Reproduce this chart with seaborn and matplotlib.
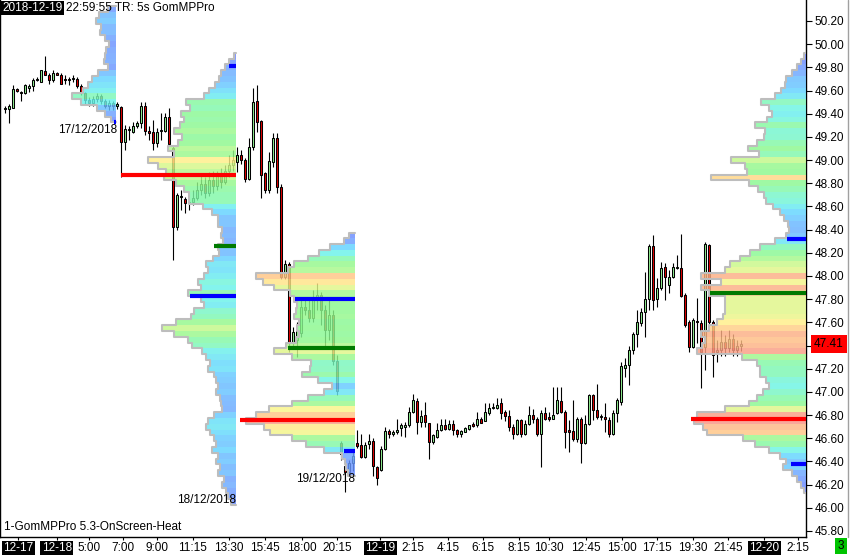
import numpy as np
import pandas as pd
import matplotlib
matplotlib.use("Agg")
import matplotlib.pyplot as plt
from matplotlib.colors import LinearSegmentedColormap
from matplotlib.ticker import FormatStrFormatter
from matplotlib.transforms import blended_transform_factory
import seaborn as sns

# ---------------- candle data (15-minute bars) ----------------
open_ = [49.44, 49.44, 49.45, 49.61, 49.59, 49.58, 49.62, 49.64, 49.69, 49.67,
         49.77, 49.73, 49.69, 49.745, 49.73, 49.70, 49.70, 49.70, 49.70, 49.64,
         49.58, 49.52, 49.49, 49.53, 49.55, 49.51, 49.47, 49.49, 49.47,
         49.46, 49.16, 49.26, 49.24, 49.29, 49.32, 49.47, 49.25, 49.24, 49.15,
         49.25, 49.25, 49.37, 49.10, 48.42, 48.68, 48.66, 48.63, 48.64, 48.67,
         48.74, 48.79, 48.72, 48.83, 48.78, 48.87, 48.81, 48.91, 48.96,
         48.98, 49.04, 49.00, 48.84, 49.11, 49.51, 49.34, 48.89, 48.74, 48.98,
         49.19, 48.77, 47.99, 48.10, 47.43, 47.45, 47.51, 47.73, 47.71, 47.64,
         47.79, 47.84, 47.71, 47.53, 47.66, 47.27, 46.56, 46.36, 46.31, 46.39,
         46.56, 46.54, 46.44, 46.55, 46.58, 46.35, 46.33, 46.51, 46.66, 46.64,
         46.65, 46.69, 46.70, 46.71, 46.83, 46.92, 46.74, 46.80, 46.73, 46.57,
         46.61, 46.67, 46.71, 46.68, 46.72, 46.67, 46.64, 46.65, 46.68, 46.72,
         46.71, 46.77, 46.75, 46.82, 46.86, 46.86, 46.90, 46.83, 46.79, 46.70,
         46.64, 46.76, 46.64, 46.72, 46.80, 46.77, 46.64, 46.82, 46.78, 46.77,
         46.82, 46.92, 46.83, 46.67, 46.66, 46.59, 46.77, 46.56, 46.72, 46.97,
         46.84, 46.78, 46.78, 46.76, 46.64, 46.82, 46.91, 47.21, 47.23, 47.36,
         47.50, 47.59, 47.69, 47.80, 48.26, 47.80, 47.90, 48.08, 47.92, 47.99,
         48.07, 48.07, 47.84, 47.60, 47.39, 47.61, 47.59, 47.39, 48.27, 47.60,
         47.34, 47.36, 47.43, 47.38, 47.46, 47.36, 47.40]
high_ = [49.47, 49.48, 49.65, 49.62, 49.60, 49.66, 49.66, 49.71, 49.72, 49.78,
         49.90, 49.75, 49.78, 49.76, 49.75, 49.73, 49.72, 49.73, 49.72, 49.66,
         49.59, 49.54, 49.55, 49.58, 49.57, 49.53, 49.52, 49.51, 49.50,
         49.47, 49.30, 49.29, 49.33, 49.34, 49.50, 49.50, 49.29, 49.35, 49.28,
         49.41, 49.41, 49.45, 49.13, 48.72, 48.74, 48.68, 48.66, 48.74, 48.81,
         48.87, 48.85, 48.90, 48.91, 48.91, 48.93, 48.96, 49.04, 49.09,
         49.11, 49.09, 49.02, 49.19, 49.62, 49.65, 49.35, 48.90, 49.07, 49.23,
         49.23, 48.79, 48.14, 48.12, 47.56, 47.60, 47.79, 47.81, 47.79, 47.88,
         47.94, 47.86, 47.75, 47.79, 47.71, 47.32, 46.58, 46.41, 46.41, 46.48,
         46.67, 46.64, 46.57, 46.64, 46.60, 46.36, 46.53, 46.70, 46.68, 46.67,
         46.77, 46.73, 46.74, 46.87, 46.98, 46.95, 46.84, 46.91, 46.73, 46.64,
         46.73, 46.77, 46.77, 46.76, 46.76, 46.68, 46.67, 46.70, 46.71, 46.74,
         46.83, 46.78, 46.90, 46.90, 46.90, 46.95, 46.95, 46.84, 46.84, 46.72,
         46.77, 46.77, 46.76, 46.88, 46.85, 46.78, 46.84, 46.87, 46.83, 47.04,
         47.04, 47.04, 46.84, 46.76, 46.93, 46.78, 46.78, 46.80, 46.98, 46.98,
         47.07, 46.81, 46.90, 46.78, 46.84, 46.95, 47.26, 47.29, 47.40, 47.52,
         47.71, 47.72, 48.03, 48.28, 48.35, 47.98, 48.12, 48.11, 48.05, 48.11,
         48.18, 48.36, 47.85, 47.62, 47.64, 47.81, 47.62, 48.29, 48.28, 47.62,
         47.45, 47.53, 47.49, 47.53, 47.50, 47.45, 47.45]
low_ = [49.41, 49.32, 49.45, 49.59, 49.51, 49.57, 49.59, 49.60, 49.68, 49.67,
        49.73, 49.66, 49.67, 49.73, 49.66, 49.66, 49.65, 49.67, 49.62, 49.56,
        49.48, 49.47, 49.47, 49.50, 49.48, 49.45, 49.43, 49.43, 49.44,
        48.85, 49.09, 49.17, 49.23, 49.28, 49.28, 49.22, 49.17, 49.09, 49.11,
        49.17, 49.24, 49.13, 48.14, 48.40, 48.57, 48.54, 48.57, 48.61, 48.655,
        48.70, 48.67, 48.69, 48.72, 48.74, 48.76, 48.79, 48.85, 48.91,
        48.90, 48.97, 48.81, 48.83, 49.09, 49.24, 48.67, 48.72, 48.72, 48.94,
        48.72, 47.97, 47.97, 47.34, 47.39, 47.30, 47.47, 47.66, 47.60, 47.60,
        47.71, 47.58, 47.40, 47.45, 47.23, 46.97, 46.41, 46.14, 46.28, 46.32,
        46.52, 46.43, 46.43, 46.51, 46.27, 46.20, 46.32, 46.50, 46.60, 46.62,
        46.64, 46.62, 46.61, 46.70, 46.82, 46.64, 46.70, 46.70, 46.42, 46.55,
        46.60, 46.66, 46.67, 46.67, 46.63, 46.61, 46.61, 46.65, 46.67, 46.70,
        46.70, 46.73, 46.75, 46.80, 46.85, 46.85, 46.77, 46.75, 46.66, 46.59,
        46.63, 46.61, 46.63, 46.71, 46.73, 46.62, 46.35, 46.76, 46.75, 46.77,
        46.81, 46.82, 46.52, 46.48, 46.58, 46.57, 46.39, 46.55, 46.71, 46.76,
        46.77, 46.76, 46.65, 46.61, 46.63, 46.74, 46.89, 47.13, 47.06, 47.33,
        47.39, 47.57, 47.47, 47.71, 47.71, 47.73, 47.88, 47.79, 47.85, 47.98,
        48.06, 47.82, 47.56, 47.34, 47.38, 47.42, 47.03, 47.19, 47.58, 47.13,
        47.26, 47.31, 47.31, 47.34, 47.31, 47.31, 47.35]
close_ = [49.45, 49.47, 49.61, 49.60, 49.58, 49.65, 49.64, 49.69, 49.70, 49.78,
          49.73, 49.69, 49.75, 49.74, 49.66, 49.69, 49.69, 49.71, 49.64, 49.58,
          49.52, 49.49, 49.53, 49.55, 49.51, 49.47, 49.49, 49.47, 49.48,
          49.16, 49.27, 49.27, 49.29, 49.32, 49.47, 49.25, 49.23, 49.15, 49.24,
          49.26, 49.37, 49.14, 48.42, 48.70, 48.69, 48.63, 48.64, 48.67, 48.74,
          48.79, 48.72, 48.83, 48.78, 48.87, 48.81, 48.91, 48.96, 49.00,
          49.04, 49.00, 48.84, 49.11, 49.50, 49.33, 48.87, 48.74, 48.99, 49.19,
          48.77, 47.99, 48.10, 47.43, 47.52, 47.53, 47.73, 47.71, 47.64, 47.79,
          47.84, 47.71, 47.53, 47.66, 47.27, 47.01, 46.46, 46.31, 46.39, 46.45,
          46.53, 46.44, 46.54, 46.58, 46.36, 46.26, 46.51, 46.66, 46.64, 46.65,
          46.67, 46.71, 46.71, 46.83, 46.93, 46.74, 46.79, 46.74, 46.57, 46.63,
          46.67, 46.71, 46.68, 46.72, 46.67, 46.64, 46.66, 46.69, 46.71, 46.71,
          46.77, 46.73, 46.83, 46.86, 46.87, 46.89, 46.82, 46.79, 46.70, 46.64,
          46.76, 46.64, 46.72, 46.80, 46.77, 46.64, 46.82, 46.77, 46.77, 46.80,
          46.93, 46.83, 46.65, 46.65, 46.59, 46.77, 46.56, 46.72, 46.97, 46.84,
          46.78, 46.79, 46.77, 46.64, 46.82, 46.93, 47.22, 47.23, 47.36, 47.50,
          47.60, 47.69, 47.80, 48.26, 47.79, 47.90, 48.07, 47.99, 47.99, 48.08,
          48.08, 47.83, 47.58, 47.39, 47.62, 47.60, 47.34, 48.28, 47.60, 47.32,
          47.36, 47.43, 47.38, 47.46, 47.36, 47.40, 47.41]

# ---------------- volume profiles (0.05 price rows, top -> bottom) ----------------
prof_top = [50.30, 49.90, 48.35, 49.90]
prof1_vol = [8, 17, 20, 15, 16, 11, 7, 10, 11, 12, 8, 18, 24, 28, 33, 44, 35, 19, 11, 5]
prof2_vol = [2, 7, 11, 15, 17, 21, 27, 32, 50, 46,
             55, 52, 56, 62, 54, 58, 68, 62, 88, 78,
             70, 72, 60, 52, 47, 47, 33, 24, 18, 18,
             14, 15, 13, 18, 17, 23, 30, 28, 32, 38,
             35, 48, 35, 32, 42, 45, 60, 74, 62, 48,
             44, 34, 30, 26, 28, 22, 20, 18, 20, 16,
             15, 14, 22, 28, 30, 26, 22, 20, 24, 18,
             20, 16, 18, 12, 14, 10, 8, 5]
prof3_vol = [5, 10, 24, 35, 46, 60, 66, 98, 91, 80,
             64, 60, 57, 58, 60, 55, 57, 55, 58, 68,
             80, 62, 43, 44, 52, 36, 22, 30, 46, 62,
             85, 98, 108, 90, 84, 62, 48, 30, 12, 9,
             8, 6]
prof4_vol = [1, 4, 8, 13, 19, 20, 24, 30, 44, 36,
             33, 38, 50, 40, 41, 48, 57, 46, 74, 60,
             58, 94, 56, 47, 41, 39, 32, 25, 21, 17,
             16, 19, 30, 45, 55, 65, 75, 80, 104, 84,
             104, 96, 80, 80, 80, 82, 88, 96, 104, 100,
             103, 108, 63, 48, 45, 45, 39, 36, 42, 48,
             56, 80, 108, 111, 102, 98, 62, 50, 36, 25,
             19, 22, 13, 8, 4, 1]
# key levels: (price, volume length, kind)
prof_marks = [
    [(49.33, 2, "va")],
    [(48.87, 115, "poc"), (48.26, 22, "val"), (47.83, 46, "va"), (49.81, 7, "va")],
    [(46.76, 115, "poc"), (47.80, 60, "va"), (47.38, 67, "val"), (46.49, 11, "va")],
    [(46.77, 115, "poc"), (47.85, 96, "val"), (48.32, 19, "va"), (46.38, 15, "va")],
]
session_labels = ["17/12/2018", "18/12/2018", "19/12/2018"]
last_price = 47.41

xtick_labels = ["12-17", "12-18", "5:00", "7:00", "9:00", "11:15", "13:30", "15:45",
                "18:00", "20:15", "12-19", "2:15", "4:15", "6:15", "8:15", "10:30",
                "12:45", "15:00", "17:15", "19:30", "21:45", "12-20", "2:15"]
xtick_pos = [3.2, 12.9, 20.9, 29.4, 37.9, 46.9, 55.9, 64.9, 74.2, 82.9, 93.7, 101.9,
             110.7, 119.4, 128.4, 135.9, 145.2, 154.2, 162.9, 171.9, 180.7, 189.7, 198.2]

# ---------------- layout / style ----------------
W, H = 850, 555
sns.set_theme(style="white")
plt.rcParams['font.family'] = ['Liberation Sans', 'DejaVu Sans']
FS = 8.5

fig = plt.figure(figsize=(W / 100, H / 100), dpi=100)
fig.patch.set_facecolor("white")
ax = fig.add_axes([0.0, 18 / H, 806 / W, 537 / H])
ax.set_facecolor("white")
ax.set_xlim(-1.325, 200.175)
ax.set_ylim(45.748, 50.381)

# candles
df = pd.DataFrame({"o": open_, "h": high_, "l": low_, "c": close_})
df["x"] = np.arange(len(df))
up = (df.c >= df.o).values
ax.vlines(df.x, df.l, df.h, color="black", lw=0.8, zorder=2)
bh = (df.c - df.o).abs().clip(lower=0.012)
bb = (df.o + df.c) / 2 - bh / 2
ax.bar(df.x, bh, bottom=bb, width=0.5, color=np.where(up, "#90ee90", "#e00000"),
       edgecolor="black", linewidth=0.75, zorder=3)

# heat colormap for the profiles
heat = LinearSegmentedColormap.from_list("heat", [
    (0.00, "#6a7dff"), (0.12, "#6aa8ff"), (0.22, "#62d4ff"), (0.32, "#6af4e8"),
    (0.42, "#80f8a8"), (0.52, "#8cf88c"), (0.66, "#c0f888"), (0.78, "#fff488"),
    (0.88, "#ffc884"), (1.00, "#f99484")])
vmax = 111.0
scale = 0.25          # bars per volume unit
anchors = [27.7, 57.75, 87.4, 200.2]
mark_col = {"poc": "#ff0000", "va": "#0000ff", "val": "#007a00"}
profiles = [prof1_vol, prof2_vol, prof3_vol, prof4_vol]

for top, vols, anc, marks in zip(prof_top, profiles, anchors, prof_marks):
    v = np.array(vols, dtype=float)
    lv = np.round(top - 0.05 * np.arange(len(v)), 2)
    ax.barh(lv, -v * scale, left=anc, height=0.05, color=heat(np.clip(v / vmax, 0, 1)),
            alpha=0.82, linewidth=0, zorder=4)
    xs, ys = [anc], [lv[0] + 0.025]
    for p, vv in zip(lv, v):
        xs += [anc - vv * scale - 0.15] * 2
        ys += [p + 0.025, p - 0.025]
    xs.append(anc)
    ys.append(lv[-1] - 0.025)
    sns.lineplot(x=np.array(xs), y=np.array(ys), sort=False, estimator=None,
                 color="#bdbdbd", lw=1.5, ax=ax, zorder=5)
    for p, L, kind in marks:
        ax.hlines(p, anc - L * scale, anc, color=mark_col[kind], lw=3.0, zorder=6)

ax.set_xlabel("")
ax.set_ylabel("")

# session date labels
lab_pos = [(27.9, 49.26), (57.75, 46.07), (87.4, 46.25)]
for (lx, ly), t in zip(lab_pos, session_labels):
    ax.text(lx, ly, t, ha="right", va="center", fontsize=FS, color="black", zorder=7)

# axes styling
ax.spines["top"].set_visible(False)
for s in ["left", "right", "bottom"]:
    ax.spines[s].set_visible(True)
    ax.spines[s].set_color("black")
    ax.spines[s].set_linewidth(1.0)

ax.yaxis.tick_right()
yt = np.round(np.arange(45.8, 50.21, 0.2), 2)
ax.set_yticks(yt)
ax.set_yticklabels([("" if abs(t - last_price) < 0.05 else f"{t:.2f}") for t in yt])
ax.tick_params(axis="y", which="both", direction="out", length=4, width=0.8,
               pad=2, labelsize=FS, colors="black", left=False, right=True)
ax.set_xticks(xtick_pos)
ax.set_xticklabels(xtick_labels)
ax.tick_params(axis="x", direction="out", length=2.5, width=0.8, pad=1.2,
               labelsize=FS, colors="black", bottom=True)
for lbl in ax.get_xticklabels():
    if "-" in lbl.get_text():
        lbl.set_color("white")
        lbl.set_bbox(dict(facecolor="black", edgecolor="none", pad=1.0))
ax.grid(False)

# last price box
tr = blended_transform_factory(ax.transAxes, ax.transData)
ax.text(1.0 + 8 / 806, last_price, f"{last_price:.2f}", transform=tr, ha="left",
        va="center", fontsize=FS, color="black", zorder=10, clip_on=False,
        bbox=dict(facecolor="#ff0000", edgecolor="none", pad=2.2))

# header / footer texts
t1 = ax.text(2 / 806, 1 - 8 / 537, "2018-12-19", transform=ax.transAxes, ha="left",
             va="center", fontsize=FS, color="white", zorder=10,
             bbox=dict(facecolor="black", edgecolor="none", pad=1.0))
ax.annotate("22:59:55 TR: 5s GomMPPro", xy=(1, 0.5), xycoords=t1, xytext=(3, 0),
            textcoords="offset points", ha="left", va="center", fontsize=FS,
            color="black", annotation_clip=False, zorder=10)
fig.text(4 / W, 1 - 527 / H, "1-GomMPPro 5.3-OnScreen-Heat", ha="left", va="center",
         fontsize=FS, color="black")
fig.text(841 / W, 1 - 546 / H, "3", ha="center", va="center", fontsize=FS,
         color="black", bbox=dict(facecolor="#00c400", edgecolor="none", pad=1.8))
fig.add_artist(plt.Line2D([847.5 / W, 847.5 / W], [18 / H, 1.0], color="#a0a0a0", lw=1))

fig.savefig("out.png", dpi=100, facecolor="white")
